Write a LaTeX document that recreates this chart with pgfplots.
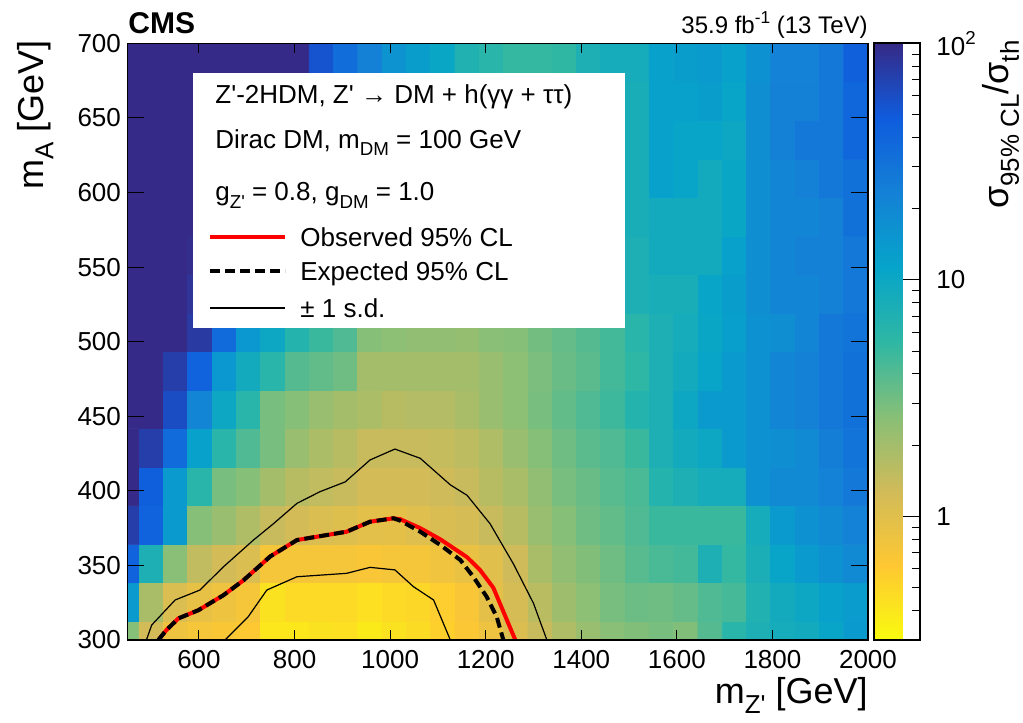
\documentclass[border=0pt]{standalone}
\usepackage{fontspec}
\setmainfont{Liberation Sans}
\usepackage{graphicx}
\usepackage{pgfplots}
\usepackage{pgfplotstable}
\pgfplotsset{compat=1.18}

\newcommand{\sub}[1]{\raisebox{-0.28em}{\scalebox{0.72}{#1}}}
\newcommand{\sups}[1]{\raisebox{0.42em}{\scalebox{0.72}{#1}}}
\newcommand{\ap}{\textquotesingle}

\pgfplotsset{colormap={birdrev}{rgb255=(249,251,14) rgb255=(254,200,50) rgb255=(209,187,89) rgb255=(135,191,119) rgb255=(46,183,164) rgb255=(6,164,202) rgb255=(20,129,214) rgb255=(15,92,221) rgb255=(53,42,135)}}

% sigma_95%CL / sigma_th, 31 columns (m_Z') x 16 rows (m_A), row by row from m_A = 300 upwards
\pgfplotstableread[row sep=\\]{
v\\
2.7\\ 1.25\\ 0.8\\ 0.72\\ 0.67\\ 0.62\\ 0.4\\ 0.4\\ 0.43\\ 0.44\\ 0.38\\ 0.43\\ 0.47\\ 0.55\\ 0.65\\ 0.82\\ 1.08\\ 1.4\\ 1.8\\ 2.2\\ 2.6\\ 2.8\\ 3.0\\ 2.8\\ 4.0\\ 6.0\\ 7.5\\ 8.5\\ 9\\ 11\\ 14\\
14\\ 1.9\\ 1.1\\ 0.9\\ 0.8\\ 0.72\\ 0.43\\ 0.48\\ 0.48\\ 0.48\\ 0.44\\ 0.48\\ 0.5\\ 0.58\\ 0.68\\ 0.95\\ 1.2\\ 1.6\\ 2.1\\ 2.5\\ 3.0\\ 3.3\\ 3.2\\ 3.5\\ 4.2\\ 4.5\\ 7\\ 9\\ 10\\ 12\\ 13.5\\
42\\ 7.5\\ 2.6\\ 1.5\\ 1.25\\ 1.1\\ 0.72\\ 0.72\\ 0.72\\ 0.72\\ 0.68\\ 0.72\\ 0.72\\ 0.78\\ 0.85\\ 1.0\\ 1.3\\ 1.9\\ 2.4\\ 2.8\\ 3.2\\ 3.9\\ 4.4\\ 4.6\\ 7.5\\ 5.2\\ 7.8\\ 11\\ 14\\ 17\\ 20\\
75\\ 42\\ 14\\ 2.7\\ 2.2\\ 1.8\\ 1.4\\ 1.25\\ 1.1\\ 1.05\\ 0.97\\ 0.95\\ 1.03\\ 1.12\\ 1.2\\ 1.4\\ 1.65\\ 2.2\\ 2.7\\ 3.2\\ 3.6\\ 4.2\\ 5.0\\ 5.0\\ 5.0\\ 5.0\\ 8.5\\ 14\\ 17\\ 20\\ 23\\
100\\ 46\\ 14\\ 6\\ 3.0\\ 2.7\\ 2.0\\ 1.65\\ 1.5\\ 1.4\\ 1.25\\ 1.25\\ 1.25\\ 1.3\\ 1.4\\ 1.65\\ 1.9\\ 2.4\\ 3.0\\ 3.4\\ 3.9\\ 4.4\\ 6.5\\ 7.5\\ 8.5\\ 8.5\\ 17\\ 20\\ 20\\ 23\\ 28\\
100\\ 75\\ 36\\ 12\\ 6\\ 4.2\\ 3.0\\ 2.2\\ 1.85\\ 1.65\\ 1.4\\ 1.4\\ 1.4\\ 1.45\\ 1.55\\ 1.8\\ 2.2\\ 2.7\\ 3.2\\ 3.8\\ 4.2\\ 5.0\\ 7.5\\ 9\\ 10\\ 14\\ 17\\ 18\\ 20\\ 25\\ 30\\
100\\ 100\\ 60\\ 21\\ 10\\ 6\\ 3.0\\ 2.7\\ 2.2\\ 2.0\\ 1.85\\ 1.65\\ 1.7\\ 1.7\\ 1.9\\ 2.2\\ 2.5\\ 3.0\\ 3.6\\ 4.2\\ 4.8\\ 6.5\\ 7.5\\ 10\\ 14\\ 14\\ 17\\ 21\\ 24\\ 28\\ 33\\
100\\ 100\\ 75\\ 42\\ 15\\ 9\\ 6\\ 4.0\\ 3.6\\ 3.2\\ 2.0\\ 2.0\\ 2.0\\ 2.0\\ 2.0\\ 2.2\\ 2.5\\ 2.9\\ 3.4\\ 3.8\\ 4.6\\ 5.5\\ 7.5\\ 9\\ 11\\ 14\\ 17\\ 21\\ 24\\ 28\\ 33\\
100\\ 100\\ 100\\ 80\\ 36\\ 15\\ 10\\ 6.5\\ 5.0\\ 4.2\\ 2.7\\ 2.5\\ 2.4\\ 2.4\\ 2.3\\ 2.6\\ 2.7\\ 3.1\\ 3.5\\ 4.0\\ 4.6\\ 6.0\\ 7.5\\ 8.5\\ 10.5\\ 12.5\\ 17\\ 18\\ 21\\ 28\\ 30\\
100\\ 100\\ 100\\ 87\\ 44\\ 21\\ 15\\ 10\\ 7\\ 5.7\\ 3.7\\ 3.3\\ 3.1\\ 3.0\\ 2.7\\ 2.9\\ 3.0\\ 3.3\\ 3.7\\ 4.4\\ 5.0\\ 7.5\\ 8\\ 8\\ 11\\ 13\\ 18\\ 21\\ 21\\ 24\\ 28\\
100\\ 100\\ 100\\ 96\\ 54\\ 29\\ 22\\ 16\\ 10\\ 7.7\\ 5\\ 4.3\\ 3.9\\ 3.7\\ 3.2\\ 3.3\\ 3.3\\ 3.6\\ 4.0\\ 4.8\\ 5.5\\ 7.5\\ 9\\ 9\\ 9\\ 12\\ 18\\ 21\\ 24\\ 24\\ 28\\
100\\ 100\\ 100\\ 100\\ 66\\ 40\\ 32\\ 25\\ 14\\ 10.4\\ 6.9\\ 5.5\\ 5.0\\ 4.5\\ 3.7\\ 3.7\\ 3.6\\ 3.9\\ 4.2\\ 5.2\\ 6.0\\ 8\\ 9\\ 9\\ 9\\ 10.5\\ 18\\ 21\\ 21\\ 24\\ 33\\
100\\ 100\\ 100\\ 100\\ 81\\ 56\\ 47\\ 39\\ 20\\ 14\\ 9.4\\ 7.2\\ 6.3\\ 5.6\\ 4.3\\ 4.2\\ 3.9\\ 4.2\\ 4.5\\ 5.7\\ 6.5\\ 8\\ 12\\ 11\\ 9\\ 10.5\\ 18\\ 21\\ 24\\ 28\\ 33\\
100\\ 100\\ 100\\ 100\\ 100\\ 78\\ 69\\ 61\\ 28\\ 19\\ 12.8\\ 9.4\\ 8.0\\ 6.9\\ 5.1\\ 4.7\\ 4.3\\ 4.5\\ 4.8\\ 6.3\\ 7.1\\ 8\\ 12\\ 11\\ 11\\ 10\\ 18\\ 24\\ 28\\ 28\\ 40\\
100\\ 100\\ 100\\ 100\\ 100\\ 100\\ 100\\ 96\\ 39\\ 26\\ 17.5\\ 12.3\\ 10.2\\ 8.5\\ 6.0\\ 5.3\\ 4.7\\ 4.8\\ 5.1\\ 6.9\\ 7.8\\ 8\\ 12\\ 12\\ 13\\ 11\\ 18\\ 24\\ 24\\ 28\\ 40\\
100\\ 100\\ 100\\ 100\\ 100\\ 100\\ 100\\ 100\\ 55\\ 35\\ 24\\ 16\\ 13\\ 10.5\\ 7\\ 6\\ 5.2\\ 5.2\\ 5.4\\ 7.5\\ 8.5\\ 8.5\\ 12\\ 13\\ 14\\ 12\\ 17\\ 23\\ 23\\ 28\\ 45\\
}\ratiotable

\begin{document}
\begin{tikzpicture}
\path[use as bounding box] (-63.65pt,-41.5pt) rectangle (447.85pt,320pt);

% main heat map
\begin{axis}[
  at={(0pt,0pt)}, anchor=south west,
  scale only axis, width=370.35pt, height=298.35pt,
  xmin=450, xmax=2000, ymin=300, ymax=700,
  xtick={600,800,1000,1200,1400,1600,1800,2000},
  ytick={300,350,400,450,500,550,600,650,700},
  scaled ticks=false,
  /pgf/number format/1000 sep={},
  /pgf/number format/assume math mode=true,
  xtick pos=both, ytick pos=both, xticklabel pos=lower, yticklabel pos=left,
  tick align=inside,
  major tick length=8.5pt,
  xtick style={/pgfplots/major tick length=5pt},
  tick style={black, line width=0.5pt},
  axis line style={black, line width=0.8pt},
  ticklabel style={font=\fontsize{13}{13}\selectfont},
  xticklabel style={inner sep=0pt, yshift=-5pt},
  yticklabel style={inner sep=0pt, xshift=-3pt},
  colormap name=birdrev,
  point meta min=-0.5229, point meta max=2,
  axis on top,
]
\addplot[matrix plot*, mesh/cols=31, point meta={ln(\thisrow{v})/ln(10)}]
  table[x index=0, y index=0,
        x expr={449.5833+50.8333*mod(\coordindex,31)},
        y expr={299.5833+25.8333*floor((\coordindex+0.5)/31)}] {\ratiotable};

% observed 95% CL
\addplot[red, line width=2pt] coordinates {
 (515,300) (532,306.7) (557,314.5) (599,320) (651,330) (693,340) (749,356) (805,367)
 (909,372.6) (958,379.3) (1007,381.6) (1021,381) (1063,375) (1105,367.5) (1161,355.5)
 (1188,347) (1216,335) (1237,319) (1262,300)};
% expected 95% CL
\addplot[black, line width=2pt, dash pattern=on 5pt off 2.5pt] coordinates {
 (515,300) (532,306.7) (557,314.5) (599,320) (651,330) (693,340) (749,356) (805,367)
 (909,372.6) (958,379.3) (1007,381.6) (1021,380) (1063,372.6) (1105,363.7) (1147,353.6)
 (1174,342.4) (1202,329) (1223,315.6) (1237,300)};
% +1 s.d.
\addplot[black, line width=0.6pt] coordinates {
 (490,300) (501,310) (550,326.8) (602,333.5) (651,349) (714,367) (756,378) (805,391.6)
 (853,399.4) (906,406) (958,420.7) (1010,428) (1063,421.8) (1126,404) (1161,397)
 (1209,378) (1258,351) (1300,324.6) (1328,300)};
% -1 s.d.
\addplot[black, line width=0.6pt] coordinates {
 (654.5,300) (703,315.6) (742,333.5) (805,342.4) (909,344.7) (958,348.7) (1010,347)
 (1049,335.7) (1091,326.8) (1126,300)};
\end{axis}

% colour scale
\begin{axis}[
  at={(0pt,0pt)}, anchor=south west,
  scale only axis, width=370.35pt, height=298.35pt,
  xmin=0, xmax=1, ymin=0, ymax=1, hide axis,
  colormap name=birdrev,
  point meta min=-0.5229, point meta max=2,
  colorbar,
  colorbar shift/.style={},
  colorbar style={
    at={(parent axis.north east)}, anchor=north west, xshift=3pt,
    scale only axis, width=23pt, height=298.35pt,
    ytick={0,1,2}, yticklabels={1,10,10\sups{2}},
    minor ytick={-0.3979,-0.3010,-0.2218,-0.1549,-0.0969,-0.0458,0.3010,0.4771,0.6021,0.6990,0.7782,0.8451,0.9031,0.9542,1.3010,1.4771,1.6021,1.6990,1.7782,1.8451,1.9031,1.9542},
    ytick pos=right, yticklabel pos=right,
    tick align=inside,
    major tick length=8.5pt, minor tick length=4pt,
    tick style={black, line width=0.5pt},
    axis line style={black, line width=0.8pt},
    yticklabel style={anchor=west, inner sep=0pt, xshift=8pt, font=\fontsize{13}{13}\selectfont},
  },
]
\end{axis}

% labels
\node[rotate=90, anchor=east, inner sep=0pt, font=\fontsize{18}{18}\selectfont] at (-46pt,300pt) {m\sub{A} [GeV]};
\node[anchor=base east, inner sep=0pt, font=\fontsize{18}{18}\selectfont] at (370.35pt,-31.5pt) {m\sub{Z\ap} [GeV]};
\node[anchor=base west, inner sep=0pt, font=\fontsize{15}{15}\selectfont\bfseries] at (0.35pt,303pt) {CMS};
\node[anchor=base east, inner sep=0pt, font=\fontsize{12}{12}\selectfont] at (370.35pt,303pt) {35.9 fb\sups{-1} (13 TeV)};
\node[rotate=90, anchor=east, inner sep=0pt, font=\fontsize{18}{18}\selectfont] at (436.85pt,300pt) {σ\sub{95\% CL}/σ\sub{th}};

% legend
\fill[white] (32.85pt,156pt) rectangle (248.85pt,283.5pt);
\begin{scope}[every node/.style={anchor=base west, inner sep=0pt, font=\fontsize{13}{13}\selectfont}]
\node at (43.85pt,268pt) {Z\ap-2HDM, Z\ap{} → DM + h(γγ + ττ)};
\node at (43.85pt,245.85pt) {Dirac DM, m\sub{DM} = 100 GeV};
\node at (43.85pt,219.5pt) {g\sub{Z\ap} = 0.8, g\sub{DM} = 1.0};
\draw[red, line width=2pt] (41.35pt,201.5pt) -- (78.85pt,201.5pt);
\node at (86.35pt,196.85pt) {Observed 95\% CL};
\draw[black, line width=2pt, dash pattern=on 5pt off 2.5pt] (41.35pt,184.5pt) -- (78.85pt,184.5pt);
\node at (86.35pt,179.85pt) {Expected 95\% CL};
\draw[black, line width=0.6pt] (41.35pt,166pt) -- (78.85pt,166pt);
\node at (86.35pt,161pt) {± 1 s.d.};
\end{scope}
\end{tikzpicture}
\end{document}
